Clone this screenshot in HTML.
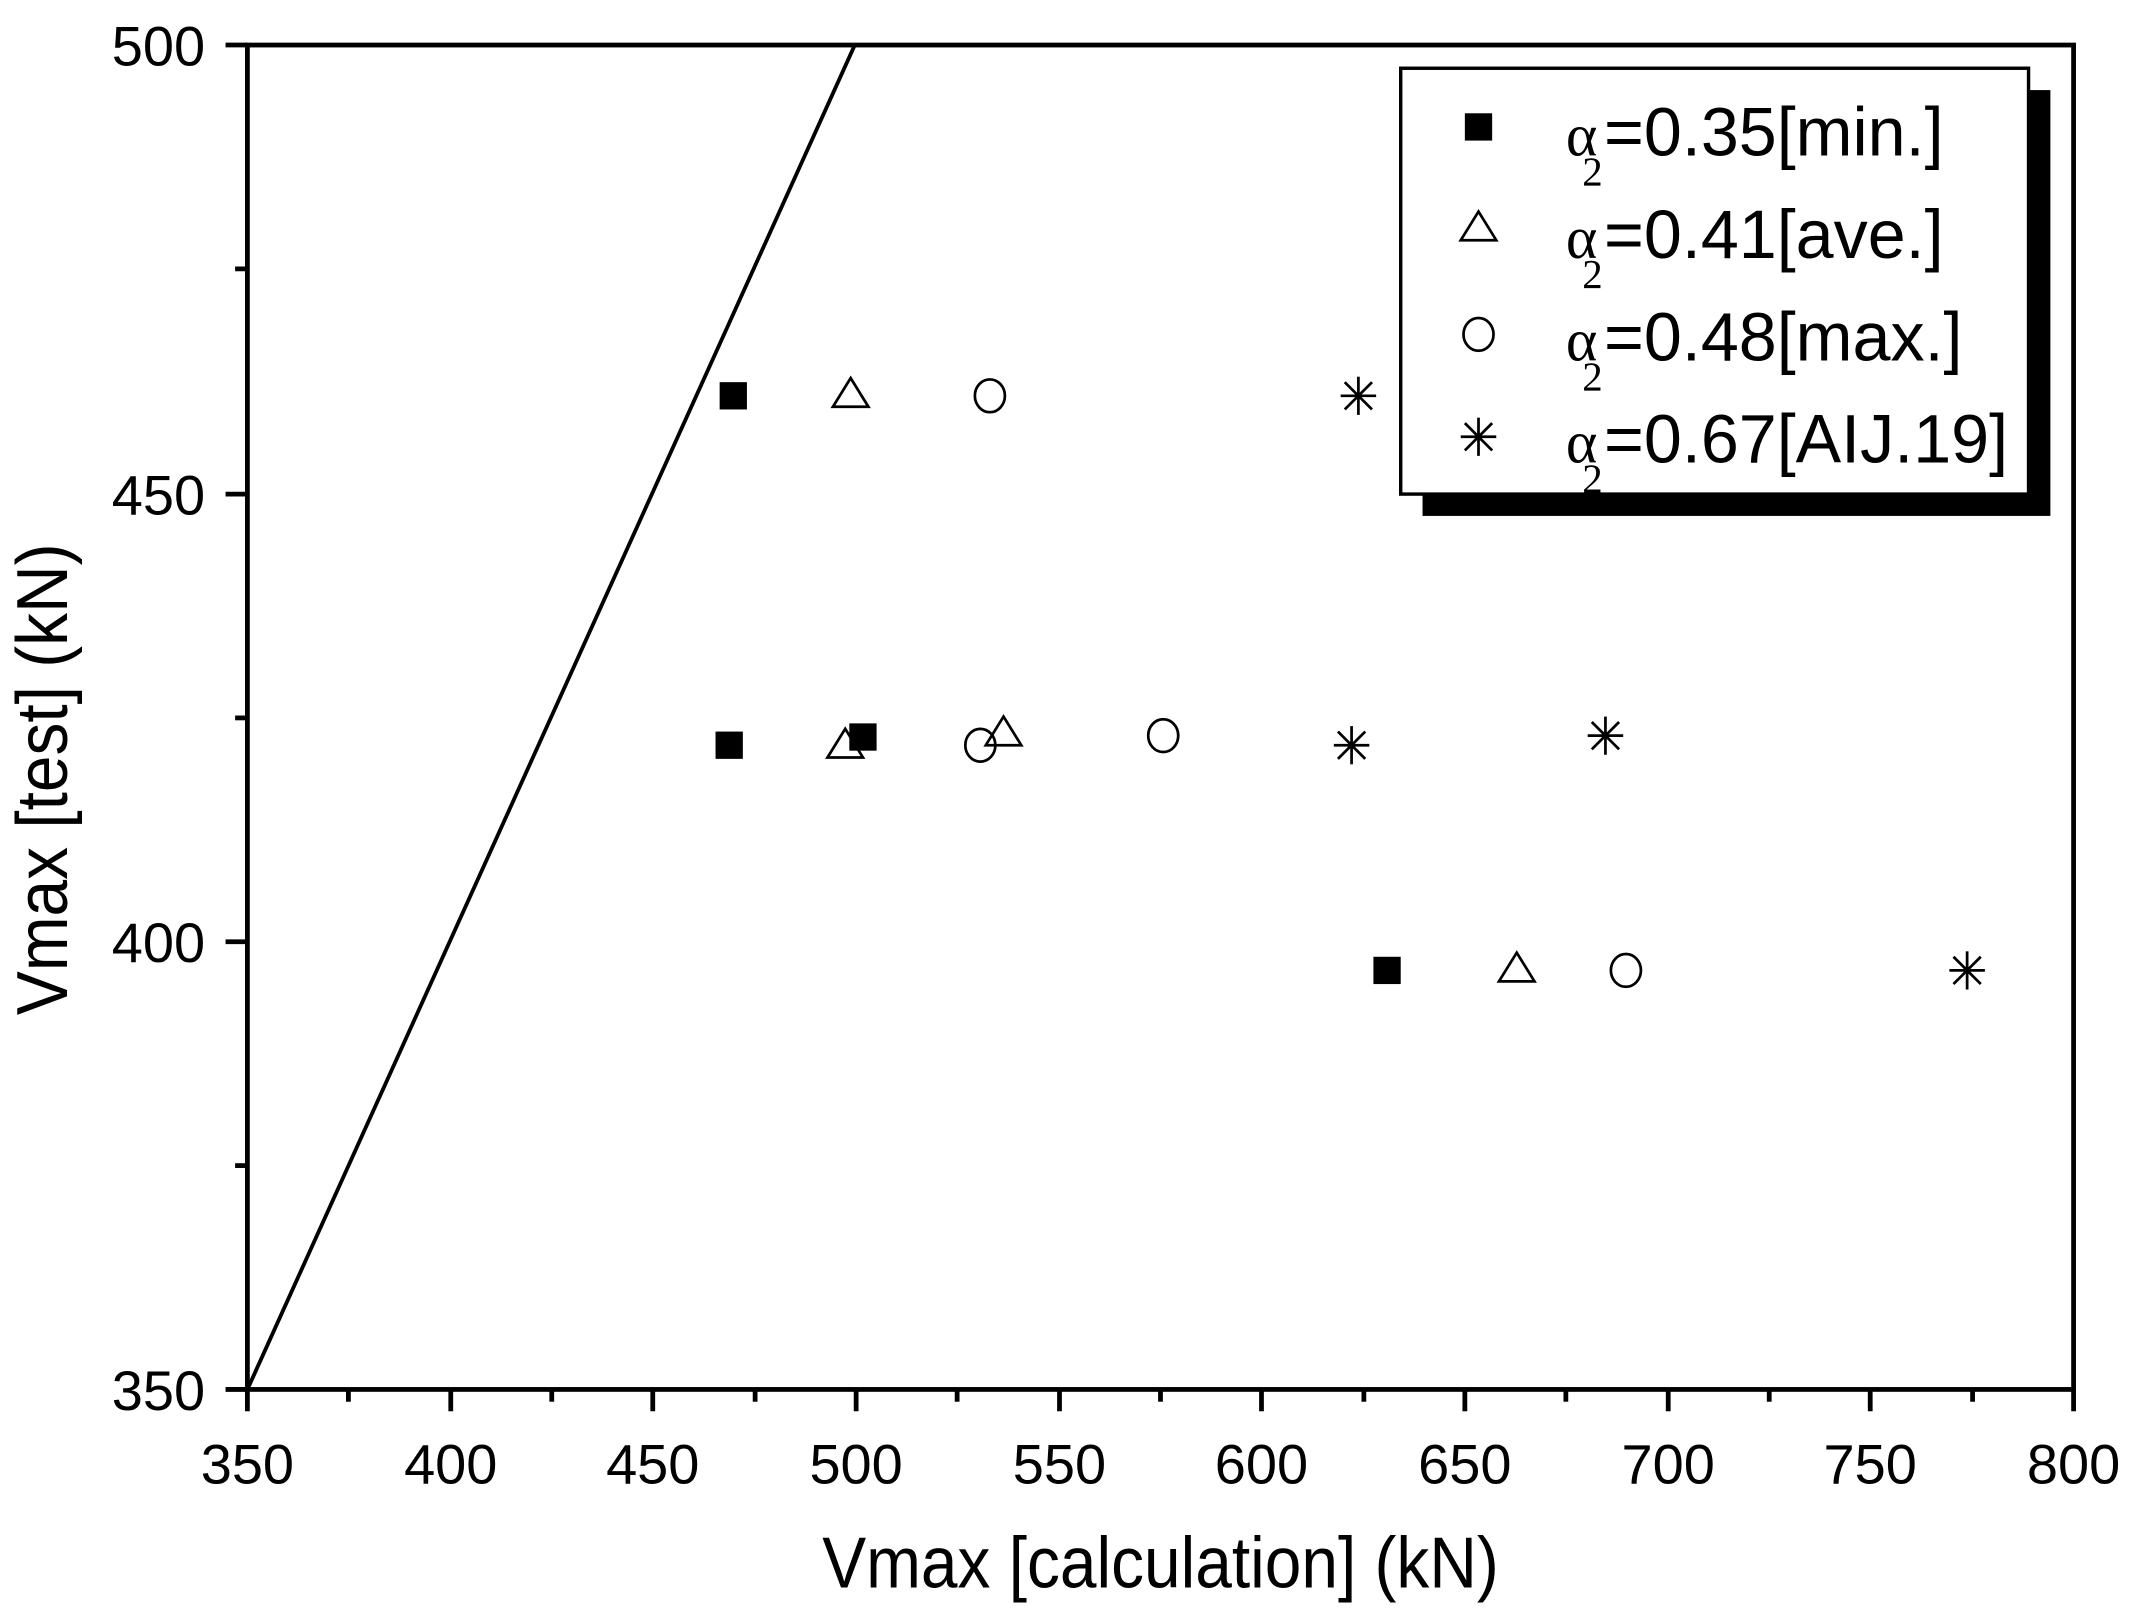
<!DOCTYPE html>
<html><head><style>html,body{margin:0;padding:0;background:#fff}svg{display:block}</style></head>
<body>
<svg width="2134" height="1616" viewBox="0 0 1563 1184" xmlns="http://www.w3.org/2000/svg" font-family="Liberation Sans, Arial, sans-serif">
<rect width="1563" height="1184" fill="#fff"/>
<line x1="181" y1="1018" x2="626" y2="33" stroke="#000" stroke-width="2.8"/>
<rect x="181" y="33" width="1338" height="985" fill="none" stroke="#000" stroke-width="3.5"/>
<g stroke="#000" stroke-width="3.5">
<line x1="181" y1="1018" x2="181" y2="1034"/><line x1="330" y1="1018" x2="330" y2="1034"/>
<line x1="478" y1="1018" x2="478" y2="1034"/><line x1="627" y1="1018" x2="627" y2="1034"/>
<line x1="776" y1="1018" x2="776" y2="1034"/><line x1="924" y1="1018" x2="924" y2="1034"/>
<line x1="1073" y1="1018" x2="1073" y2="1034"/><line x1="1222" y1="1018" x2="1222" y2="1034"/>
<line x1="1370" y1="1018" x2="1370" y2="1034"/><line x1="1519" y1="1018" x2="1519" y2="1034"/>
<line x1="255" y1="1018" x2="255" y2="1027"/><line x1="404" y1="1018" x2="404" y2="1027"/>
<line x1="553" y1="1018" x2="553" y2="1027"/><line x1="701" y1="1018" x2="701" y2="1027"/>
<line x1="850" y1="1018" x2="850" y2="1027"/><line x1="999" y1="1018" x2="999" y2="1027"/>
<line x1="1147" y1="1018" x2="1147" y2="1027"/><line x1="1296" y1="1018" x2="1296" y2="1027"/>
<line x1="1445" y1="1018" x2="1445" y2="1027"/>
<line x1="165" y1="33" x2="181" y2="33"/><line x1="165" y1="362" x2="181" y2="362"/>
<line x1="165" y1="690" x2="181" y2="690"/><line x1="165" y1="1018" x2="181" y2="1018"/>
<line x1="172" y1="197" x2="181" y2="197"/><line x1="172" y1="526" x2="181" y2="526"/>
<line x1="172" y1="854" x2="181" y2="854"/>
</g>
<g font-size="41" text-anchor="middle" fill="#000">
<text x="181" y="1087">350</text><text x="330" y="1087">400</text><text x="478" y="1087">450</text>
<text x="627" y="1087">500</text><text x="776" y="1087">550</text><text x="924" y="1087">600</text>
<text x="1073" y="1087">650</text><text x="1222" y="1087">700</text><text x="1370" y="1087">750</text>
<text x="1519" y="1087">800</text>
</g>
<g font-size="41" text-anchor="end" fill="#000">
<text x="150" y="48">500</text><text x="150" y="377">450</text><text x="150" y="705">400</text><text x="150" y="1033">350</text>
</g>
<text transform="translate(850,1163) scale(0.91,1)" font-size="53" text-anchor="middle">Vmax [calculation] (kN)</text>
<text transform="translate(49,571) rotate(-90) scale(0.91,1)" font-size="53" text-anchor="middle">Vmax [test] (kN)</text>
<g fill="#000">
<rect x="527" y="280" width="20" height="20"/>
<rect x="524" y="536" width="20" height="20"/>
<rect x="622" y="530" width="20" height="20"/>
<rect x="1006" y="701" width="20" height="20"/>
</g>
<g fill="none" stroke="#000" stroke-width="2">
<path d="M623,277 L636,298 L610,298Z"/>
<path d="M619,534 L632,555 L606,555Z"/>
<path d="M735,525 L748,546 L722,546Z"/>
<path d="M1111,698 L1124,719 L1098,719Z"/>
<ellipse cx="725" cy="290" rx="11" ry="12"/>
<ellipse cx="718" cy="546" rx="11" ry="12"/>
<ellipse cx="852" cy="539" rx="11" ry="12"/>
<ellipse cx="1191" cy="711" rx="11" ry="12"/>
</g>
<g stroke="#000" stroke-width="2">
<g transform="translate(995,290)"><line x1="0" y1="-14" x2="0" y2="14"/><line x1="-13" y1="0" x2="13" y2="0"/><line x1="-10" y1="-10" x2="10" y2="10"/><line x1="-10" y1="10" x2="10" y2="-10"/></g>
<g transform="translate(990,546)"><line x1="0" y1="-14" x2="0" y2="14"/><line x1="-13" y1="0" x2="13" y2="0"/><line x1="-10" y1="-10" x2="10" y2="10"/><line x1="-10" y1="10" x2="10" y2="-10"/></g>
<g transform="translate(1176,539)"><line x1="0" y1="-14" x2="0" y2="14"/><line x1="-13" y1="0" x2="13" y2="0"/><line x1="-10" y1="-10" x2="10" y2="10"/><line x1="-10" y1="10" x2="10" y2="-10"/></g>
<g transform="translate(1441,711)"><line x1="0" y1="-14" x2="0" y2="14"/><line x1="-13" y1="0" x2="13" y2="0"/><line x1="-10" y1="-10" x2="10" y2="10"/><line x1="-10" y1="10" x2="10" y2="-10"/></g>
</g>
<rect x="1042" y="66" width="460" height="312" fill="#000"/>
<rect x="1026" y="50" width="460" height="312" fill="#fff" stroke="#000" stroke-width="2.5"/>
<rect x="1073" y="83" width="20" height="20" fill="#000"/>
<path d="M1083,155 L1096,176 L1070,176Z" fill="none" stroke="#000" stroke-width="2"/>
<ellipse cx="1083" cy="245" rx="11" ry="12" fill="none" stroke="#000" stroke-width="2"/>
<g stroke="#000" stroke-width="2" transform="translate(1083,320)"><line x1="0" y1="-14" x2="0" y2="14"/><line x1="-13" y1="0" x2="13" y2="0"/><line x1="-10" y1="-10" x2="10" y2="10"/><line x1="-10" y1="10" x2="10" y2="-10"/></g>
<g fill="#000">
<g transform="translate(1147,114)"><text font-family="Liberation Serif, serif" font-size="44" x="0" y="0">α</text><text font-family="Liberation Serif, serif" font-size="30" x="12" y="22">2</text><text x="28" y="0" font-size="50">=0.35[min.]</text></g>
<g transform="translate(1147,189)"><text font-family="Liberation Serif, serif" font-size="44" x="0" y="0">α</text><text font-family="Liberation Serif, serif" font-size="30" x="12" y="22">2</text><text x="28" y="0" font-size="50">=0.41[ave.]</text></g>
<g transform="translate(1147,264)"><text font-family="Liberation Serif, serif" font-size="44" x="0" y="0">α</text><text font-family="Liberation Serif, serif" font-size="30" x="12" y="22">2</text><text x="28" y="0" font-size="50">=0.48[max.]</text></g>
<g transform="translate(1147,339)"><text font-family="Liberation Serif, serif" font-size="44" x="0" y="0">α</text><text font-family="Liberation Serif, serif" font-size="30" x="12" y="22">2</text><text x="28" y="0" font-size="50">=0.67[AIJ.19]</text></g>
</g>
</svg>
</body></html>
